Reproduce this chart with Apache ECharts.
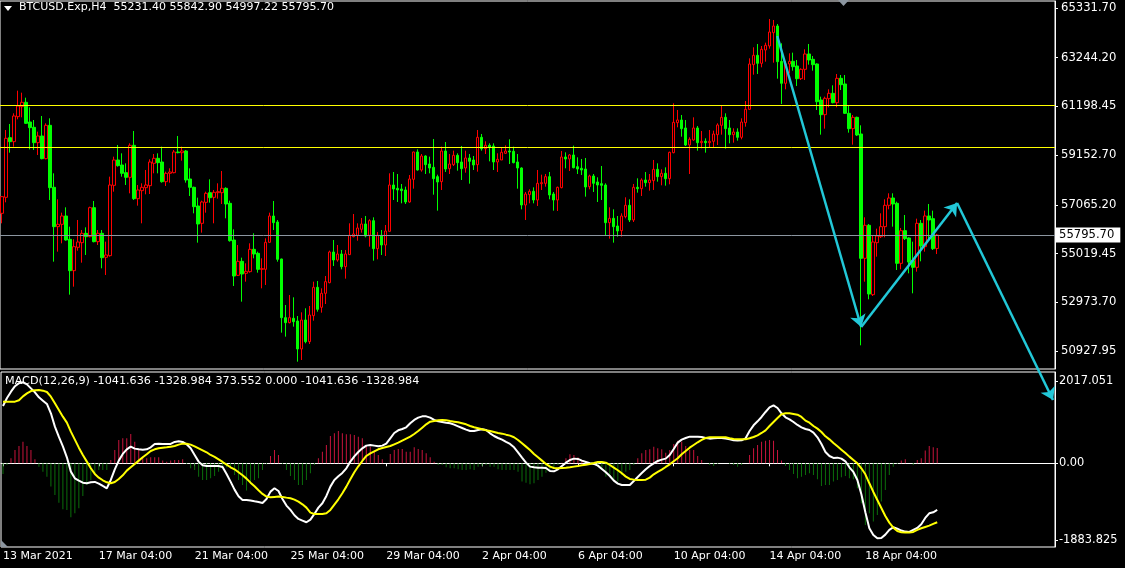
<!DOCTYPE html>
<html><head><meta charset="utf-8">
<script src="https://cdn.jsdelivr.net/npm/echarts@6/dist/echarts.min.js"></script>
<style>html,body{margin:0;padding:0;background:#000}#c{width:1125px;height:568px}</style>
</head><body><div id="c"></div>
<script>
// ---------- DATA ----------
const symbolTitle = 'BTCUSD.Exp,H4  55231.40 55842.90 54997.22 55795.70';
const macdTitle = 'MACD(12,26,9) -1041.636 -1328.984 373.552 0.000 -1041.636 -1328.984';
const tickLabels = ['13 Mar 2021','17 Mar 04:00','21 Mar 04:00','25 Mar 04:00','29 Mar 04:00','2 Apr 04:00','6 Apr 04:00','10 Apr 04:00','14 Apr 04:00','18 Apr 04:00'];
const barsPerLabel = 24;
const futureBars = 29; // chart shift (empty space right of last bar)
const priceTicks = [65331.70,63244.20,61198.45,59152.70,57065.20,55019.45,52973.70,50927.95];
const macdTicks = [2017.051,0,-1883.825];
const lastPrice = 55795.70;
const levelLines = [61245, 59495];
// arrows: [barFrom, priceFrom, barTo, priceTo]
const arrows = [[194,64156,215,51934],[215,51934,239,57142],[239,57142,263,48868]];
// candles: [open, close, low, high]
const ohlc = [
[56708,57408,56288,57436],[57380,59858,57170,60208],[59886,59718,59256,60460],[59718,60796,59508,60908],[60768,61216,60656,61860],
[61188,61370,60740,61776],[61370,60488,60460,61566],[60544,60306,59396,61160],[60320,59676,59368,60628],[59676,59956,59158,60138],
[59956,59004,58976,60796],[59004,60404,58976,60488],[60404,57786,57268,60698],[57800,56148,54678,58388],[56148,56246,55098,57296],
[56246,56596,55448,56736],[56596,55588,55560,56960],[55616,54300,53292,56148],[54300,55308,53628,55616],[55280,55504,55140,56428],
[55476,55868,54636,56008],[55868,55728,54958,56120],[55728,56946,55700,56988],[56946,55518,55490,57226],[55518,55868,55378,56008],
[55868,54846,54398,56008],[54860,54958,54118,55518],[54930,57898,54888,58248],[57884,58948,57618,59088],[58948,58710,58668,59578],
[58738,58388,58248,59228],[58416,58220,57898,58808],[58220,59564,57548,59648],[59564,57324,57268,60166],[57324,57688,57030,57898],
[57660,57800,56288,57968],[57786,57898,57506,58528],[57870,58864,57520,58976],[58808,59018,58388,59200],[59018,58836,58388,59228],
[58864,58038,57996,59508],[58038,58388,57856,58458],[58388,58444,57996,58598],[58416,59284,58388,59368],[59284,59256,59228,59956],
[59256,59326,58920,59508],[59326,58108,57996,59368],[58150,57800,57436,58598],[57800,56988,56708,57828],[57016,56260,55476,57366],
[56288,57184,55896,57240],[57170,57548,56736,57618],[57576,57366,57156,58136],[57380,57590,56288,57688],[57576,57618,57324,57968],
[57576,57758,57100,58486],[57758,57100,56498,57800],[57128,55560,55518,57240],[55588,54076,53656,56036],[54104,54692,54076,55378],
[54692,54160,52998,54846],[54188,54272,53838,54608],[54258,55196,54216,55448],[55196,55000,54818,55868],[55028,54356,54216,55098],
[54356,54384,53558,54818],[54356,55490,53698,55658],[55490,56596,55476,56736],[56596,56316,56008,57226],[56344,54776,54678,56428],
[54790,52326,51696,54804],[52326,52116,51528,52858],[52116,52326,52088,53278],[52298,52158,51948,53180],[52186,51010,50478,52396],
[51010,52228,50548,52550],[52228,51318,51248,52718],[51318,52438,51220,52816],[52410,53600,52200,53838],[53600,52676,52578,53866],
[52760,53348,52536,53558],[53348,53838,52900,54076],[53796,55084,53768,55140],[55084,54748,54496,55588],[54748,55000,54678,55378],
[55000,54468,54356,55168],[54468,55000,53964,55168],[54972,55784,54958,56288],[55728,55840,55700,56680],[55784,56092,55560,56288],
[56036,56260,55896,56512],[56260,55756,55700,56596],[55784,56400,55308,56456],[56400,55224,54720,56540],[55224,55784,54776,55924],
[55784,55378,54958,56008],[55378,55966,54916,56218],[55952,57898,55938,58388],[57898,57730,57268,58444],[57758,57688,57184,58360],
[57730,57660,57128,57940],[57688,57184,57100,57828],[57184,58150,57156,58318],[58136,59284,57744,59298],[59284,58528,58500,59396],
[58528,59116,58458,59200],[59116,58752,58360,59144],[58780,58612,58388,59088],[58640,58164,57492,59830],[58248,58024,56820,58332],
[58038,59326,57688,59508],[59326,58570,58444,59704],[58584,58780,58360,59200],[58752,59144,58696,59340],[59144,58836,58500,59228],
[58864,58584,58108,59536],[58612,59032,58416,59340],[59032,58892,57954,59200],[58948,58738,58528,59116],[58752,59900,58458,60208],
[59900,59424,59340,60040],[59424,59564,59200,59732],[59564,59480,58892,59648],[59536,58864,58528,59648],[58864,58976,58444,59228],
[58948,59270,58948,59480],[59228,59326,59200,59564],[59326,59284,58780,59816],[59312,58836,58808,59508],[58864,58612,57744,59200],
[58612,57058,56876,58640],[57058,57520,56428,57604],[57492,57632,57128,57716],[57632,57268,57128,57800],[57268,57968,57016,58528],
[57954,57996,57688,58332],[57968,58248,57828,58360],[58248,57478,57296,58444],[57520,57268,56820,57604],[57268,57800,56806,57828],
[57786,59074,57758,59326],[59074,58990,58598,59270],[58990,59158,58486,59200],[59158,58626,58598,59550],[58668,58570,58360,59060],
[58598,58528,58318,58990],[58570,57814,57408,59032],[57828,58276,57716,58332],[58276,57968,57604,58360],[58024,57898,57184,58220],
[57954,57884,57268,58696],[57898,56316,55784,57968],[56316,56498,55644,56960],[56498,56148,55476,56876],[56176,55966,55728,56596],
[55980,56596,55728,56708],[56568,57044,56498,57380],[57044,56428,56344,57296],[56428,57800,56344,57940],[57800,57744,57576,58178],
[57744,58108,57436,58178],[58108,57996,57828,58444],[57996,58108,57660,58360],[58080,58556,57688,58948],[58556,58248,58038,58808],
[58248,58388,57884,58556],[58388,58164,57870,58640],[58164,59270,57926,59298],[59256,60530,59228,61328],[60516,60628,60320,61048],
[60628,60264,59928,60838],[60292,59578,59536,60628],[59578,59816,58360,59900],[59788,60292,59760,60740],[60292,59676,59340,60376],
[59676,59732,59438,60166],[59732,59676,59256,59858],[59676,59732,59452,60208],[59732,60040,59452,60180],[60012,60418,59578,60488],
[60404,60740,60012,61244],[60740,60264,59424,60908],[60292,60012,59648,60628],[60012,60124,59676,60278],[60124,59900,59760,60278],
[59900,60544,59816,60698],[60516,61076,60348,61426],[61076,62980,61048,63218],[62952,63344,62532,63680],[63344,63008,62560,63820],
[63008,63596,62840,63736],[63568,63764,63078,63876],[63736,64324,63624,64870],[64296,64576,63036,64828],[64576,63078,62364,64660],
[63092,62168,61300,63848],[62168,62980,61916,63106],[62980,63092,62588,63428],[63092,62868,62700,63456],[62896,62364,62056,63148],
[62364,62756,62308,62798],[62756,63400,62308,63596],[63400,63148,62952,63820],[63176,62952,62700,63316],[62980,61398,61048,63008],
[61468,60852,60012,61608],[60852,61538,60264,61608],[61524,61748,61160,61916],[61748,61356,61328,62084],[61356,62378,61160,62560],
[62378,62112,61888,62518],[62140,60908,60880,62518],[60908,60264,60096,61244],[60264,60740,59592,60838],[60740,59998,59956,60768],
[60040,54818,51164,60404],[54818,56204,53838,56540],[56204,53320,53096,56260],[53292,55504,53236,55756],[55476,55756,54888,56064],
[55728,56148,55672,56708],[56148,57044,55700,57296],[57044,57352,56876,57548],[57352,57100,56148,57548],[57128,54608,54328,57198],
[54608,55980,54356,56092],[55980,55644,55588,56638],[55672,54664,54188,55700],[54720,54440,53348,55518],[54440,56288,54258,56484],
[56288,55336,54692,56428],[55308,56596,55098,56820],[56596,56428,55588,57100],[56484,55224,55168,56820],[55231.40,55795.70,54997.22,55842.90]
];
const macdMain = [
1410,1607,1763,1898,1972,1993,1943,1845,1747,1624,1542,1460,1230,902,648,418,148,-205,-369,-426,
-476,-492,-467,-459,-500,-558,-615,-410,-148,66,230,344,410,361,344,336,344,394,476,484,
476,476,476,525,541,525,467,369,205,41,-49,-66,-66,-66,-66,-90,-262,-451,-648,-812,
-902,-902,-918,-935,-951,-976,-877,-697,-615,-681,-877,-1041,-1148,-1279,-1369,-1410,-1451,-1386,-1246,-1091,
-984,-804,-574,-410,-320,-238,-123,41,172,279,369,435,451,435,418,435,484,615,746,812,
845,886,984,1066,1123,1156,1156,1123,1066,1033,1017,1000,984,951,910,869,828,795,795,820,
836,820,738,672,623,582,525,476,394,271,139,16,-82,-98,-107,-107,-115,-189,-197,-148,
-66,16,82,115,107,66,33,0,-16,-57,-139,-221,-312,-426,-500,-533,-533,-533,-435,-336,
-238,-148,-66,0,57,90,115,205,353,508,582,623,656,656,656,648,623,607,615,623,
623,607,590,566,558,566,615,795,935,1033,1140,1263,1378,1427,1361,1230,1132,1082,1017,943,
886,845,820,754,640,476,279,180,131,139,115,49,-98,-213,-410,-763,-1205,-1599,-1763,-1845,
-1837,-1755,-1640,-1574,-1607,-1656,-1681,-1689,-1640,-1591,-1501,-1345,-1230,-1205,-1148
];
const macdSignal = [
1517,1517,1517,1517,1550,1648,1722,1779,1799,1804,1788,1755,1640,1476,1312,1148,1000,779,582,385,
205,41,-123,-262,-353,-418,-467,-492,-459,-385,-295,-180,-98,-16,66,148,221,303,344,369,
385,394,410,426,459,484,484,459,418,369,320,271,205,156,98,33,-33,-98,-148,-221,
-295,-377,-476,-566,-664,-754,-820,-836,-828,-820,-828,-845,-861,-894,-943,-1009,-1091,-1214,-1246,-1246,
-1246,-1230,-1148,-1017,-886,-738,-574,-394,-221,-74,57,180,246,295,344,377,402,426,467,508,
558,607,656,722,795,877,959,1025,1041,1058,1066,1058,1041,1025,1009,984,959,918,886,861,
836,812,795,771,746,730,705,681,640,574,492,410,328,230,148,66,-16,-82,-115,-123,
-115,-107,-98,-82,-66,-49,-33,-16,8,33,33,16,-41,-107,-172,-246,-328,-385,-402,-410,
-410,-402,-353,-271,-213,-156,-90,-25,49,123,221,303,385,451,517,574,623,640,640,640,
640,640,615,599,590,590,590,615,648,689,746,812,918,1017,1115,1205,1230,1230,1214,1197,
1140,1050,1000,918,853,771,664,590,500,418,336,254,164,82,0,-123,-271,-492,-705,-902,
-1099,-1296,-1460,-1583,-1665,-1697,-1706,-1706,-1689,-1640,-1599,-1566,-1533,-1492,-1451
];
const macdHist = [
-262,-41,123,328,426,533,426,328,98,-82,-205,-328,-574,-779,-968,-1132,-1148,-1328,-1230,-1107,
-803,-533,-410,-262,-164,-164,-164,82,328,574,615,615,722,533,344,164,123,148,148,148,
66,41,66,82,82,98,-16,-123,-164,-328,-410,-410,-369,-312,-205,-82,-98,-123,-287,-410,
-533,-672,-492,-410,-369,-164,-25,180,328,205,-16,-164,-312,-410,-533,-533,-410,-246,-41,123,
287,451,672,738,795,738,713,713,697,656,615,451,410,312,205,98,0,230,328,353,
353,287,287,394,353,328,246,148,41,-41,-41,-98,-123,-123,-148,-164,-164,-148,-164,-82,
-66,-41,-82,-82,-148,-164,-164,-164,-164,-205,-451,-476,-517,-492,-410,-328,-230,-164,-123,-41,
16,123,221,205,148,82,41,0,-41,-82,-164,-328,-328,-410,-451,-287,-205,-164,-41,123,
246,328,344,410,369,344,262,328,476,558,533,426,328,328,180,82,0,-41,-66,-16,
0,0,-16,-41,-82,-41,0,205,369,451,533,558,574,558,328,66,-66,-164,-262,-369,
-328,-287,-246,-287,-394,-558,-533,-533,-451,-410,-344,-312,-369,-394,-615,-984,-1517,-1230,-1435,-1271,
-943,-656,-287,-82,-16,66,98,0,-41,82,123,312,426,394,374
];

// ---------- CHART ----------
const N = ohlc.length + futureBars;
const cats = Array.from({length: N}, (_, i) => String(i));
const FONT = 'DejaVu Sans';
const TXT = '#ffffff';
const showTick = (i) => i % barsPerLabel === 0 && i / barsPerLabel < tickLabels.length;

const chart = echarts.init(document.getElementById('c'), null, {renderer: 'canvas'});
chart.setOption({
  animation: false,
  backgroundColor: '#000000',
  title: [
    {text: symbolTitle, left: 19, top: 2, padding: 0, textStyle: {color: TXT, fontSize: 11, fontWeight: 'normal', fontFamily: FONT}},
    {text: macdTitle, left: 5, top: 376, padding: 0, textStyle: {color: TXT, fontSize: 11.2, fontWeight: 'normal', fontFamily: FONT}}
  ],
  graphic: [
    {type: 'polygon', shape: {points: [[4,6],[12,6],[8,11]]}, style: {fill: '#ffffff'}, silent: true},
    {type: 'polygon', shape: {points: [[838,0],[849,0],[843.5,6]]}, style: {fill: '#8c96a0'}, silent: true},
    {type: 'polygon', shape: {points: [[1,540],[1,547],[8,547]]}, style: {fill: '#8c96a0'}, silent: true}
  ],
  grid: [
    {left: 0, right: 70, top: 1, height: 368, show: true, borderColor: '#ffffff', borderWidth: 1, backgroundColor: 'transparent'},
    {left: 0, right: 70, top: 372, height: 175, show: true, borderColor: '#ffffff', borderWidth: 1, backgroundColor: 'transparent'}
  ],
  xAxis: [
    {type: 'category', gridIndex: 0, data: cats, boundaryGap: true, show: false},
    {type: 'category', gridIndex: 1, data: cats, boundaryGap: true,
     axisLine: {show: true, lineStyle: {color: '#ffffff', width: 1}},
     axisTick: {show: true, interval: (i) => showTick(i), alignWithLabel: true, length: 3, lineStyle: {color: '#ffffff'}},
     axisLabel: {show: true, interval: (i) => showTick(i), formatter: (v, i) => tickLabels[i / barsPerLabel] || '',
       align: 'left', color: TXT, fontSize: 11, fontFamily: FONT, margin: 4},
     splitLine: {show: false}}
  ],
  yAxis: [
    {type: 'value', gridIndex: 0, position: 'right', min: 50169.7, max: 65625.7, scale: true,
     axisLine: {show: true, lineStyle: {color: '#ffffff'}},
     axisTick: {show: true, customValues: priceTicks, length: 3, lineStyle: {color: '#ffffff'}},
     axisLabel: {show: true, customValues: priceTicks, formatter: (v) => v.toFixed(2), color: TXT, fontSize: 11.6, fontFamily: FONT, margin: 6},
     splitLine: {show: false}},
    {type: 'value', gridIndex: 1, position: 'right', min: -2060, max: 2247,
     axisLine: {show: true, lineStyle: {color: '#ffffff'}},
     axisTick: {show: true, customValues: macdTicks, length: 3, lineStyle: {color: '#ffffff'}},
     axisLabel: {show: true, customValues: macdTicks, formatter: (v) => v === 0 ? '0.00' : String(v), color: TXT, fontSize: 11.4, fontFamily: FONT, margin: 4},
     splitLine: {show: false}}
  ],
  series: [
    {type: 'candlestick', xAxisIndex: 0, yAxisIndex: 0, data: ohlc, barWidth: 3,
     itemStyle: {color: '#000000', color0: '#00ff00', borderColor: '#ff0000', borderColor0: '#00ff00', borderWidth: 1},
     markLine: {silent: true, symbol: ['none','none'], animation: false,
       data: [
         {yAxis: levelLines[0], lineStyle: {color: '#ffff00', width: 1, type: 'solid'}, label: {show: false}},
         {yAxis: levelLines[1], lineStyle: {color: '#ffff00', width: 1, type: 'solid'}, label: {show: false}},
         {yAxis: lastPrice, lineStyle: {color: '#8c96a0', width: 1, type: 'solid'},
          label: {show: true, position: 'end', formatter: lastPrice.toFixed(2), backgroundColor: '#ffffff', color: '#000000',
                  fontSize: 11.6, fontFamily: FONT, padding: [2, 6, 1, 3], distance: 1}}
       ]}},
    {type: 'lines', coordinateSystem: 'cartesian2d', xAxisIndex: 0, yAxisIndex: 0, clip: false, silent: true, z: 5,
     symbol: ['none', 'arrow'], symbolSize: 12,
     lineStyle: {color: '#22c8d8', width: 2.5, opacity: 1, curveness: 0},
     data: arrows.map(a => ({coords: [[a[0], a[1]], [a[2], a[3]]]}))},
    {type: 'bar', xAxisIndex: 1, yAxisIndex: 1, barWidth: 1, silent: true,
     data: macdHist.map(v => ({value: v, itemStyle: {color: v >= 0 ? '#c8143c' : '#0b6e0b'}}))},
    {type: 'line', xAxisIndex: 1, yAxisIndex: 1, data: macdMain, symbol: 'none', silent: true,
     lineStyle: {color: '#ffffff', width: 2}, z: 3},
    {type: 'line', xAxisIndex: 1, yAxisIndex: 1, data: macdSignal, symbol: 'none', silent: true,
     lineStyle: {color: '#ffff00', width: 2}, z: 4}
  ]
});
</script></body></html>
